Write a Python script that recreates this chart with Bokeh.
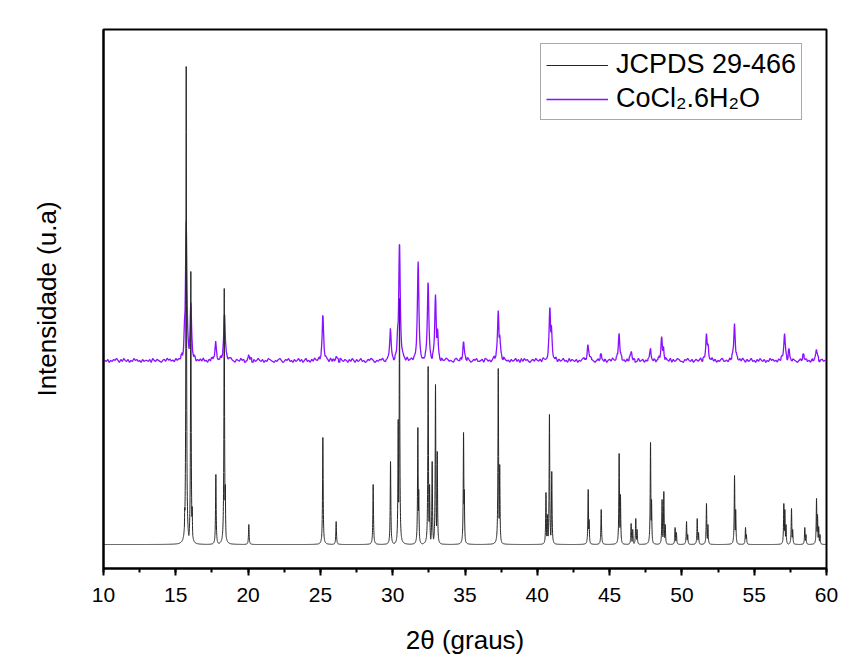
import numpy as np
from bokeh.plotting import figure
from bokeh.models import Range1d, Legend, LegendItem, SingleIntervalTicker, FixedTicker
from bokeh.embed import file_html
from bokeh.resources import INLINE

# ---------------- data ----------------
x_limits = [10, 60]
y_limits = [-24, 515]

# JCPDS 29-466 reference pattern: peak positions (2theta) and intensities (a.u.)
jcpds_pos = [15.62, 15.72, 16.04, 16.13, 17.77, 18.35, 18.42, 20.05, 25.17, 26.09,
             28.65, 29.85, 30.38, 30.47, 31.74, 31.80, 32.45, 32.55, 32.73, 32.96,
             33.08, 34.90, 34.95, 37.30, 37.40, 40.60, 40.70, 40.84, 41.00, 43.52,
             43.58, 44.42, 45.66, 45.75, 46.49, 46.60, 46.81, 46.90, 47.83, 47.90,
             48.63, 48.75, 48.85, 49.53, 49.62, 50.32, 50.40, 51.06, 51.15, 51.70,
             51.80, 53.64, 53.72, 54.40, 54.46, 57.05, 57.12, 57.20, 57.58, 57.66,
             58.50, 58.58, 59.31, 59.38, 59.46, 59.55]
jcpds_int = [37, 478, 273, 38, 70, 256, 60, 20, 107, 23,
             60, 83, 125, 246, 117, 55, 178, 60, 83, 160,
             93, 112, 55, 176, 80, 52, 30, 130, 73, 55,
             25, 35, 91, 50, 21, 15, 26, 15, 102, 45,
             45, 53, 20, 17, 12, 23, 10, 26, 12, 41,
             20, 69, 35, 17, 10, 41, 35, 20, 36, 15,
             17, 10, 46, 30, 18, 10]

# CoCl2.6H2O measured pattern: peak positions and heights above its baseline
coc_pos = [15.62, 15.72, 16.04, 17.75, 18.37, 20.05, 25.17, 26.10, 29.85, 30.35,
           30.47, 31.76, 32.45, 32.96, 33.10, 34.90, 37.30, 37.40, 40.87, 40.97,
           43.50, 44.40, 45.65, 46.50, 47.83, 48.60, 48.72, 51.70, 51.80, 53.64,
           57.10, 57.40, 58.40, 59.30]
coc_int = [45, 138, 58, 19, 49, 6, 44, 4, 31, 35,
           119, 98, 78, 67, 30, 19, 50, 28, 54, 35,
           17, 5, 28, 9, 10, 23, 14, 27, 15, 37,
           28, 10, 5, 12]
# baseline noise of the measured pattern, one value every 0.1 degree
coc_noise = [int(c) for c in "".join("""
2324132435 3142532413 2534231423 3241532432 1342534231 4232513423
3425132425 2314253142 3524132453 2143253412 3251423532 4132543213
2453124352 3142352413 5231425324 1352431524 2341532431 4253142352
3124354213 2435213452 3142532431 5234132542 1324532143 2531423542
3214532413 4253124352 2341542313 5243142532 3142352415 2534213425
3241532143 4235142352 3152432413 2453124532 1342532413 4253241352
3142532412 5234132452 2413524314 3251423542 2143532413 4235142352
3524132452 2314253142 4253142352 3142532413 2534231425 3241532432
1342534231 4232513423 3425132425 2314253142
""".split())]
coc_offset = 181  # vertical offset of the measured pattern
noise_step = 0.1

# ---------------- build traces ----------------
def profile(x, pos, amp, g):
    pos = np.asarray(pos, float)[None, :]
    amp = np.asarray(amp, float)[None, :]
    return (amp / (1.0 + ((x[:, None] - pos) / g) ** 2)).max(axis=1)

xb = np.round(np.arange(x_limits[0], x_limits[1] + 1e-9, 0.005), 4)
yb = profile(xb, jcpds_pos, jcpds_int, 0.025)

noise = np.asarray(coc_noise, float)
xn = x_limits[0] + noise_step * np.arange(len(noise))
keep = xn <= x_limits[1] + 1e-9
xn, noise = xn[keep], noise[keep]
xd = np.round(np.arange(x_limits[0], x_limits[1] + 1e-9, 0.02), 4)
near = np.zeros_like(xd, bool)
for pk in coc_pos:
    near |= np.abs(xd - pk) < 0.3
xd = xd[near]
xp = np.unique(np.round(np.concatenate([xn, xd]), 4))
idx = np.clip(np.round((xp - x_limits[0]) / noise_step).astype(int), 0, len(noise) - 1)
yp = coc_offset + noise[idx] + profile(xp, coc_pos, coc_int, 0.06)

# ---------------- figure ----------------
FONT = "Liberation Sans"
p = figure(width=849, height=666, output_backend="svg", toolbar_location=None,
           x_range=Range1d(*x_limits), y_range=Range1d(*y_limits),
           min_border_left=103, min_border_right=23, min_border_top=29, min_border_bottom=98)
p.background_fill_color = "white"
p.border_fill_color = "white"
p.xgrid.visible = False
p.ygrid.visible = False
p.outline_line_color = "black"
p.outline_line_width = 2
p.outline_line_alpha = 1

r_coc = p.line(xp, yp, line_color="#8a10ff", line_width=1.3)
r_jc = p.line(xb, yb, line_color="#262626", line_width=1)

xa = p.xaxis[0]
xa.ticker = SingleIntervalTicker(interval=5, num_minor_ticks=2)
xa.axis_label = "2θ (graus)"
xa.axis_label_text_font = FONT
xa.axis_label_text_font_size = "26px"
xa.axis_label_text_font_style = "normal"
xa.axis_label_text_color = "black"
xa.axis_label_standoff = 20
xa.major_label_text_font = FONT
xa.major_label_text_font_size = "21px"
xa.major_label_text_color = "black"
xa.major_label_standoff = 12
xa.axis_line_width = 2
xa.axis_line_color = "black"
xa.major_tick_in = 0
xa.major_tick_out = 7
xa.minor_tick_in = 0
xa.minor_tick_out = 4
xa.major_tick_line_width = 2
xa.minor_tick_line_width = 2
xa.major_tick_line_color = "black"
xa.minor_tick_line_color = "black"

ya = p.yaxis[0]
ya.ticker = FixedTicker(ticks=[])
ya.axis_label = "Intensidade (u.a)"
ya.axis_label_text_font = FONT
ya.axis_label_text_font_size = "26px"
ya.axis_label_text_font_style = "normal"
ya.axis_label_text_color = "black"
ya.axis_label_standoff = 42
ya.axis_line_width = 2
ya.axis_line_color = "black"
ya.major_tick_line_color = None
ya.minor_tick_line_color = None

legend = Legend(items=[LegendItem(label="JCPDS 29-466", renderers=[r_jc]),
                       LegendItem(label="CoCl₂.6H₂O", renderers=[r_coc])],
                location=(437, 448), margin=0, padding=5, spacing=3,
                glyph_width=62, glyph_height=30, label_height=30, label_standoff=8,
                label_text_font=FONT, label_text_font_size="27px", label_text_color="black",
                border_line_color="#555555", border_line_width=1,
                background_fill_color="white", background_fill_alpha=1)
p.add_layout(legend)

open("out.html", "w").write(file_html(p, INLINE))
